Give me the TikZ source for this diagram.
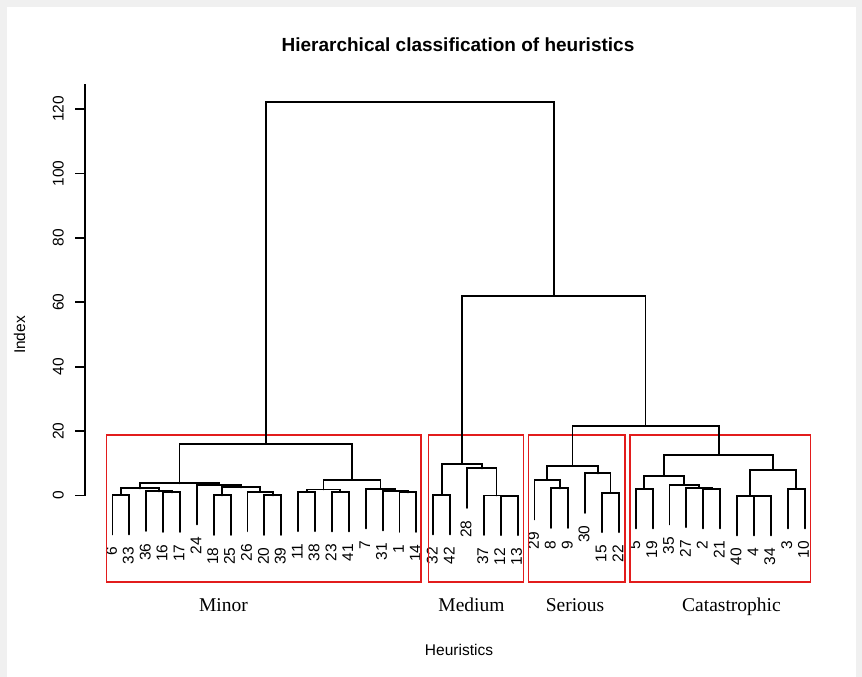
\documentclass[tikz,border=0pt]{standalone}
\usepackage{fontspec}
\setmainfont{Liberation Sans}
\newfontfamily\catfont{Liberation Serif}
\begin{document}
\begin{tikzpicture}[x=1pt,y=-1pt,
  dend/.style={line width=1.9pt,black,line cap=round,line join=miter},
  redbox/.style={line width=1.6pt,draw={rgb,255:red,226;green,28;blue,28}},
  leaflabel/.style={rotate=90,anchor=east,inner sep=0pt,font=\fontsize{15.5}{15.5}\selectfont},
  ticklabel/.style={rotate=90,anchor=base,inner sep=0pt,font=\fontsize{15.5}{15.5}\selectfont},
  axtitle/.style={inner sep=0pt,font=\fontsize{15.5}{16}\selectfont},
  cattext/.style={inner sep=0pt,anchor=base,font=\catfont\fontsize{19.5}{20}\selectfont}]
\useasboundingbox (0,0) rectangle (862,677);
\fill[gray!12] (0,0) rectangle (862,677);
\fill[white] (7,7) rectangle (856,677);
% title
\node[inner sep=0pt,anchor=base,font=\bfseries\fontsize{19}{20}\selectfont] (title) at (458,52) {Hierarchical classification of heuristics};
% axis
\coordinate (ax0) at (85,495.5);
\coordinate (axtop) at (85,84);
\draw[line width=1.7pt] (ax0) -- (axtop);
\foreach \v in {0,20,40,60,80,100,120}{
  \pgfmathsetmacro\ty{495.5-\v*3.221}
  \coordinate (tk\v) at (85,\ty);
  \coordinate (tl\v) at (75,\ty);
  \draw[line width=1.7pt] (tk\v) -- (tl\v);
  \node[ticklabel] (tt\v) at (63.5,\ty) {\v};
}
\node[axtitle,rotate=90,anchor=base] (ylab) at (25,335) {Index};
\node[axtitle,anchor=base] (xlab) at (459,655) {Heuristics};
% leaves
\foreach \lab/\i/\py in {6/1/495,33/2/495,36/3/491.3,16/4/492.3,17/5/492.3,24/6/485,18/7/495.3,25/8/495.3,26/9/491.7,20/10/495.3,39/11/495.3,11/12/491.7,38/13/491.7,23/14/492,41/15/492,7/16/488.8,31/17/491,1/18/492.3,14/19/492.3,32/20/495,42/21/495,28/22/468.3,37/23/495.5,12/24/495.7,13/25/495.7,29/26/480,8/27/488.3,9/28/488.3,30/29/473.3,15/30/492.7,22/31/492.7,5/32/489,19/33/489,35/34/485,27/35/487.7,2/36/489,21/37/489,40/38/495.8,4/39/496,34/40/496,3/41/489,10/42/489}{
  \pgfmathsetmacro\xx{112.5+(\i-1)*16.88}
  \pgfmathsetmacro\yy{\py+39.5}
  \coordinate (L\lab) at (\xx,\yy);
  \node[leaflabel] (T\lab) at (\xx-1,\yy+12.5) {\lab};
}
% merge points
\coordinate (A1) at (120.94,495);
\coordinate (A2) at (171.58,492.3);
\coordinate (A3) at (158.92,491.3);
\coordinate (A4) at (139.93,488.3);
\coordinate (A5) at (222.22,495.3);
\coordinate (A6) at (272.86,495.3);
\coordinate (A7) at (260.2,491.7);
\coordinate (A8) at (241.21,487.3);
\coordinate (A9) at (219.06,485);
\coordinate (A10) at (179.5,483.3);
\coordinate (B1) at (306.62,491.7);
\coordinate (B2) at (340.38,492);
\coordinate (B3) at (323.5,489.5);
\coordinate (B4) at (407.9,492.3);
\coordinate (B5) at (395.24,491);
\coordinate (B6) at (380.47,488.8);
\coordinate (B7) at (351.99,480);
\coordinate (MIN) at (265.74,444);
\coordinate (C1) at (441.66,495);
\coordinate (C2) at (509.18,495.7);
\coordinate (C3) at (496.52,495.5);
\coordinate (C4) at (481.75,468.3);
\coordinate (MED) at (461.71,464);
\coordinate (D1) at (559.82,488.3);
\coordinate (D2) at (547.16,480);
\coordinate (D3) at (610.46,492.7);
\coordinate (D4) at (597.8,473.3);
\coordinate (SER) at (572.48,465.7);
\coordinate (E1) at (644.22,489);
\coordinate (E2) at (711.74,489);
\coordinate (E3) at (699.08,487.7);
\coordinate (E4) at (684.31,485);
\coordinate (E5) at (664.27,475.7);
\coordinate (E6) at (762.38,496);
\coordinate (E7) at (749.72,495.8);
\coordinate (E8) at (796.14,489);
\coordinate (E9) at (772.93,470);
\coordinate (CAT) at (718.6,455);
\coordinate (SC) at (645.54,426);
\coordinate (MSC) at (553.63,296);
\coordinate (ROOT) at (409.69,102);
% red boxes
\draw[redbox] (106.5,435) rectangle (420.7,581.7);
\draw[redbox] (428.3,435) rectangle (523.3,581.7);
\draw[redbox] (528.5,435) rectangle (625,581.7);
\draw[redbox] (630,435) rectangle (810.5,581.7);
% dendrogram
\draw[dend] (L6) |- (A1) -| (L33);
\draw[dend] (L16) |- (A2) -| (L17);
\draw[dend] (L36) |- (A3) -| (A2);
\draw[dend] (A1) |- (A4) -| (A3);
\draw[dend] (L18) |- (A5) -| (L25);
\draw[dend] (L20) |- (A6) -| (L39);
\draw[dend] (L26) |- (A7) -| (A6);
\draw[dend] (A5) |- (A8) -| (A7);
\draw[dend] (L24) |- (A9) -| (A8);
\draw[dend] (A4) |- (A10) -| (A9);
\draw[dend] (L11) |- (B1) -| (L38);
\draw[dend] (L23) |- (B2) -| (L41);
\draw[dend] (B1) |- (B3) -| (B2);
\draw[dend] (L1) |- (B4) -| (L14);
\draw[dend] (L31) |- (B5) -| (B4);
\draw[dend] (L7) |- (B6) -| (B5);
\draw[dend] (B3) |- (B7) -| (B6);
\draw[dend] (A10) |- (MIN) -| (B7);
\draw[dend] (L32) |- (C1) -| (L42);
\draw[dend] (L12) |- (C2) -| (L13);
\draw[dend] (L37) |- (C3) -| (C2);
\draw[dend] (L28) |- (C4) -| (C3);
\draw[dend] (C1) |- (MED) -| (C4);
\draw[dend] (L8) |- (D1) -| (L9);
\draw[dend] (L29) |- (D2) -| (D1);
\draw[dend] (L15) |- (D3) -| (L22);
\draw[dend] (L30) |- (D4) -| (D3);
\draw[dend] (D2) |- (SER) -| (D4);
\draw[dend] (L5) |- (E1) -| (L19);
\draw[dend] (L2) |- (E2) -| (L21);
\draw[dend] (L27) |- (E3) -| (E2);
\draw[dend] (L35) |- (E4) -| (E3);
\draw[dend] (E1) |- (E5) -| (E4);
\draw[dend] (L4) |- (E6) -| (L34);
\draw[dend] (L40) |- (E7) -| (E6);
\draw[dend] (L3) |- (E8) -| (L10);
\draw[dend] (E7) |- (E9) -| (E8);
\draw[dend] (E5) |- (CAT) -| (E9);
\draw[dend] (SER) |- (SC) -| (CAT);
\draw[dend] (MED) |- (MSC) -| (SC);
\draw[dend] (MIN) |- (ROOT) -| (MSC);
% category labels
\node[cattext] (cMinor) at (223.5,611) {Minor};
\node[cattext] (cMedium) at (471.5,611) {Medium};
\node[cattext] (cSerious) at (575,611) {Serious};
\node[cattext] (cCat) at (731.5,611) {Catastrophic};
\end{tikzpicture}
\end{document}
